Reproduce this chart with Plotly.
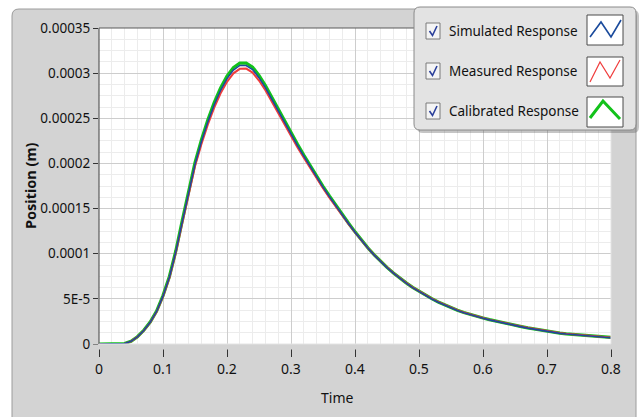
import plotly.graph_objects as go

# Time samples (s)
time = [0.00, 0.01, 0.02, 0.03, 0.04, 0.05, 0.06, 0.07, 0.08, 0.09,
        0.10, 0.11, 0.12, 0.13, 0.14, 0.15, 0.16, 0.17, 0.18, 0.19,
        0.20, 0.21, 0.22, 0.23, 0.24, 0.25, 0.26, 0.27, 0.28, 0.29,
        0.30, 0.31, 0.32, 0.33, 0.34, 0.35, 0.36, 0.37, 0.38, 0.39,
        0.40, 0.41, 0.42, 0.43, 0.44, 0.45, 0.46, 0.47, 0.48, 0.49,
        0.50, 0.51, 0.52, 0.53, 0.54, 0.55, 0.56, 0.57, 0.58, 0.59,
        0.60, 0.61, 0.62, 0.63, 0.64, 0.65, 0.66, 0.67, 0.68, 0.69,
        0.70, 0.71, 0.72, 0.73, 0.74, 0.75, 0.76, 0.77, 0.78, 0.79,
        0.80]

# Position responses in micrometres (converted to metres when plotted)
simulated_um = [0, 0, 0, 0, 0.5, 3, 8, 15, 24, 36,
                53, 74, 102, 135, 168, 199, 224, 246, 265, 281,
                294, 303.5, 308.5, 308.5, 304, 295, 284, 271, 258, 245,
                232.5, 220, 208, 196.2, 184.8, 173.8, 163.2, 152.9, 142.9, 133.2,
                123.8, 114.8, 106.3, 98.5, 91.3, 84.6, 78.4, 72.7, 67.4, 62.5,
                58.0, 53.8, 49.9, 46.3, 43.0, 40.0, 37.2, 34.6, 32.3, 30.3,
                28.5, 26.7, 25.0, 23.4, 21.9, 20.4, 19.0, 17.6, 16.3, 15.0,
                13.8, 12.7, 11.8, 11.0, 10.3, 9.6, 9.0, 8.4, 7.9, 7.4,
                7.0]
measured_um = [0, 0, 0, 0, 0.4, 2.9, 7.9, 14.8, 23.8, 35.7,
               52.5, 73.2, 101, 133.6, 166.2, 196.8, 221.4, 243, 261.8, 277.6,
               290.4, 299.8, 304.8, 305, 300.6, 291.8, 281, 268.2, 255.4, 242.6,
               230.3, 218, 206.2, 194.6, 183.4, 172.6, 162.2, 152.1, 142.3, 132.8,
               123.5, 114.7, 106.3, 98.6, 91.5, 84.9, 78.7, 73.0, 67.7, 62.8,
               58.3, 54.1, 50.2, 46.6, 43.3, 40.3, 37.5, 34.9, 32.6, 30.6,
               28.8, 27.0, 25.3, 23.7, 22.2, 20.7, 19.3, 17.9, 16.6, 15.3,
               14.1, 13.0, 12.1, 11.3, 10.6, 9.9, 9.3, 8.7, 8.2, 7.7,
               7.3]
calibrated_um = [0, 0, 0, 0, 0.5, 3.1, 8.1, 15.2, 24.3, 36.4,
                 53.6, 74.8, 103, 136.3, 169.6, 200.8, 226, 248.2, 267.4, 283.5,
                 296.6, 306.2, 311.2, 311.2, 306.6, 297.5, 286.3, 273.1, 259.9, 246.8,
                 234.1, 221.4, 209.2, 197.3, 185.8, 174.7, 164, 153.6, 143.5, 133.7,
                 124.2, 115.2, 106.6, 98.8, 91.6, 84.9, 78.7, 73.0, 67.7, 62.8,
                 58.3, 54.1, 50.2, 46.6, 43.3, 40.3, 37.5, 34.9, 32.6, 30.6,
                 28.8, 27.0, 25.3, 23.7, 22.2, 20.7, 19.3, 17.9, 16.6, 15.3,
                 14.1, 13.0, 12.1, 11.3, 10.6, 9.9, 9.3, 8.7, 8.2, 7.7,
                 7.3]

series_names = ["Simulated Response", "Measured Response", "Calibrated Response"]
series_colors = ["#1a4a9c", "#f03c3c", "#12c21a"]

x_tick_vals = [0, 0.1, 0.2, 0.3, 0.4, 0.5, 0.6, 0.7, 0.8]
x_tick_text = ["0", "0.1", "0.2", "0.3", "0.4", "0.5", "0.6", "0.7", "0.8"]
y_tick_vals = [0, 0.00005, 0.0001, 0.00015, 0.0002, 0.00025, 0.0003, 0.00035]
y_tick_text = ["0", "5E-5", "0.0001", "0.00015", "0.0002", "0.00025", "0.0003", "0.00035"]

W, H = 640, 417
ML, MR, MT, MB = 99, 29, 28, 73
PW, PH = W - ML - MR, H - MT - MB
PANEL = "#d3d3d3"


def px(x):
    return (x - ML) / PW


def py(y):
    return (H - MB - y) / PH


def rrect(x0, y0, x1, y1, r):
    """Rounded rectangle path in paper coordinates from pixel corners."""
    return " ".join([
        f"M {px(x0 + r)},{py(y0)}",
        f"L {px(x1 - r)},{py(y0)}",
        f"Q {px(x1)},{py(y0)} {px(x1)},{py(y0 + r)}",
        f"L {px(x1)},{py(y1 - r)}",
        f"Q {px(x1)},{py(y1)} {px(x1 - r)},{py(y1)}",
        f"L {px(x0 + r)},{py(y1)}",
        f"Q {px(x0)},{py(y1)} {px(x0)},{py(y1 - r)}",
        f"L {px(x0)},{py(y0 + r)}",
        f"Q {px(x0)},{py(y0)} {px(x0 + r)},{py(y0)}",
        "Z",
    ])


def poly(points):
    return "M " + " L ".join(f"{px(a)},{py(b)}" for a, b in points)


fig = go.Figure()

widths = [1.6, 2.0, 3.2]
data = [simulated_um, measured_um, calibrated_um]
for i in [2, 1, 0]:  # calibrated underneath, simulated on top
    fig.add_trace(go.Scatter(
        x=time, y=[v * 1e-6 for v in data[i]], mode="lines",
        name=series_names[i], line=dict(color=series_colors[i], width=widths[i]),
        showlegend=False, hoverinfo="skip"))

shapes = []
# front panel
shapes.append(dict(type="path", xref="paper", yref="paper", layer="below",
                   path=rrect(12, 9, 636, 430, 7), fillcolor=PANEL,
                   line=dict(color="#9c9c9c", width=1)))
# plot area
shapes.append(dict(type="rect", xref="paper", yref="paper", layer="below",
                   x0=0, x1=1, y0=0, y1=1, fillcolor="#ffffff", line=dict(width=0)))
# gap between the axis and the x tick marks
shapes.append(dict(type="rect", xref="paper", yref="paper", layer="above",
                   x0=px(92), x1=px(618), y0=py(349.5), y1=py(344.6),
                   fillcolor=PANEL, line=dict(width=0)))
# sunken border: dark left/top, light right/bottom
shapes.append(dict(type="line", xref="paper", yref="paper", layer="above",
                   x0=0, x1=0, y0=0, y1=1, line=dict(color="#5a5a5a", width=1.2)))
shapes.append(dict(type="line", xref="paper", yref="paper", layer="above",
                   x0=0, x1=1, y0=1, y1=1, line=dict(color="#5a5a5a", width=1.2)))
shapes.append(dict(type="line", xref="paper", yref="paper", layer="above",
                   x0=0, x1=1, y0=0, y1=0, line=dict(color="#e4e4e4", width=1)))
shapes.append(dict(type="line", xref="paper", yref="paper", layer="above",
                   x0=1, x1=1, y0=0, y1=1, line=dict(color="#e4e4e4", width=1)))

# legend panel with shadow
shapes.append(dict(type="path", xref="paper", yref="paper", layer="above",
                   path=rrect(417, 10, 639, 133, 6), fillcolor="rgba(90,90,90,0.35)",
                   line=dict(width=0)))
shapes.append(dict(type="path", xref="paper", yref="paper", layer="above",
                   path=rrect(414, 7, 636, 130, 6), fillcolor="#e3e3e3",
                   line=dict(color="#8a8a8a", width=1)))

row_y = [31, 71, 111]
icon_boxes = [(15, 45), (57, 86), (97, 127)]
icon_lines = [
    [(590, 37), (601, 22), (611, 37), (621, 20)],
    [(590, 82), (600, 62), (610, 78), (620, 60)],
    [(590, 118), (603, 101), (620, 119)],
]
icon_widths = [1.6, 1.2, 3]
annotations = []
for k, yc in enumerate(row_y):
    # checkbox
    shapes.append(dict(type="rect", xref="paper", yref="paper", layer="above",
                       x0=px(426), x1=px(440), y0=py(yc + 8), y1=py(yc - 8),
                       fillcolor="#f4f4f4", line=dict(color="#7a7a7a", width=1)))
    shapes.append(dict(type="path", xref="paper", yref="paper", layer="above",
                       path=poly([(429.5, yc), (432.5, yc + 4.5), (437, yc - 5)]),
                       line=dict(color="#2a3f9a", width=1.6)))
    # label
    annotations.append(dict(x=px(447), y=py(yc), xref="paper", yref="paper",
                            text=series_names[k], showarrow=False, xanchor="left",
                            yanchor="middle",
                            font=dict(family="Noto Sans", size=13.5, color="#111111")))
    # line sample
    b0, b1 = icon_boxes[k]
    shapes.append(dict(type="rect", xref="paper", yref="paper", layer="above",
                       x0=px(587), x1=px(623), y0=py(b1), y1=py(b0),
                       fillcolor="#ffffff", line=dict(color="#4a4a4a", width=1)))
    shapes.append(dict(type="path", xref="paper", yref="paper", layer="above",
                       path=poly(icon_lines[k]),
                       line=dict(color=series_colors[k], width=icon_widths[k])))

annotations.append(dict(x=px(30), y=py(186), xref="paper", yref="paper",
                        text="<b>Position (m)</b>", showarrow=False, textangle=-90,
                        xanchor="center", yanchor="middle",
                        font=dict(family="Noto Sans", size=14.5, color="#111111")))
annotations.append(dict(x=px(337), y=py(397), xref="paper", yref="paper",
                        text="Time", showarrow=False, xanchor="center", yanchor="middle",
                        font=dict(family="Noto Sans", size=14, color="#111111")))

fig.update_layout(
    width=W, height=H,
    margin=dict(l=ML, r=MR, t=MT, b=MB, pad=0),
    paper_bgcolor="#ffffff", plot_bgcolor="rgba(0,0,0,0)",
    shapes=shapes, annotations=annotations, showlegend=False,
    font=dict(family="Noto Sans", size=13, color="#111111"),
)
fig.update_xaxes(
    range=[0, 0.8], tickvals=x_tick_vals, ticktext=x_tick_text,
    ticks="outside", ticklen=12, tickcolor="#333333", tickwidth=1.3,
    showgrid=True, gridcolor="#cdcdcd", gridwidth=1, zeroline=False,
    minor=dict(dtick=0.02, showgrid=True, gridcolor="#ececec", gridwidth=1, ticks=""),
    tickfont=dict(family="Noto Sans", size=14, color="#111111"), showline=False,
)
fig.update_yaxes(
    range=[0, 0.00035], tickvals=y_tick_vals, ticktext=y_tick_text,
    ticks="outside", ticklen=5, tickcolor="#333333", tickwidth=1.3,
    showgrid=True, gridcolor="#cdcdcd", gridwidth=1, zeroline=False,
    minor=dict(dtick=0.0000125, showgrid=True, gridcolor="#ececec", gridwidth=1, ticks=""),
    tickfont=dict(family="Noto Sans", size=13.5, color="#111111"), showline=False,
)

fig.write_html("out.html")
